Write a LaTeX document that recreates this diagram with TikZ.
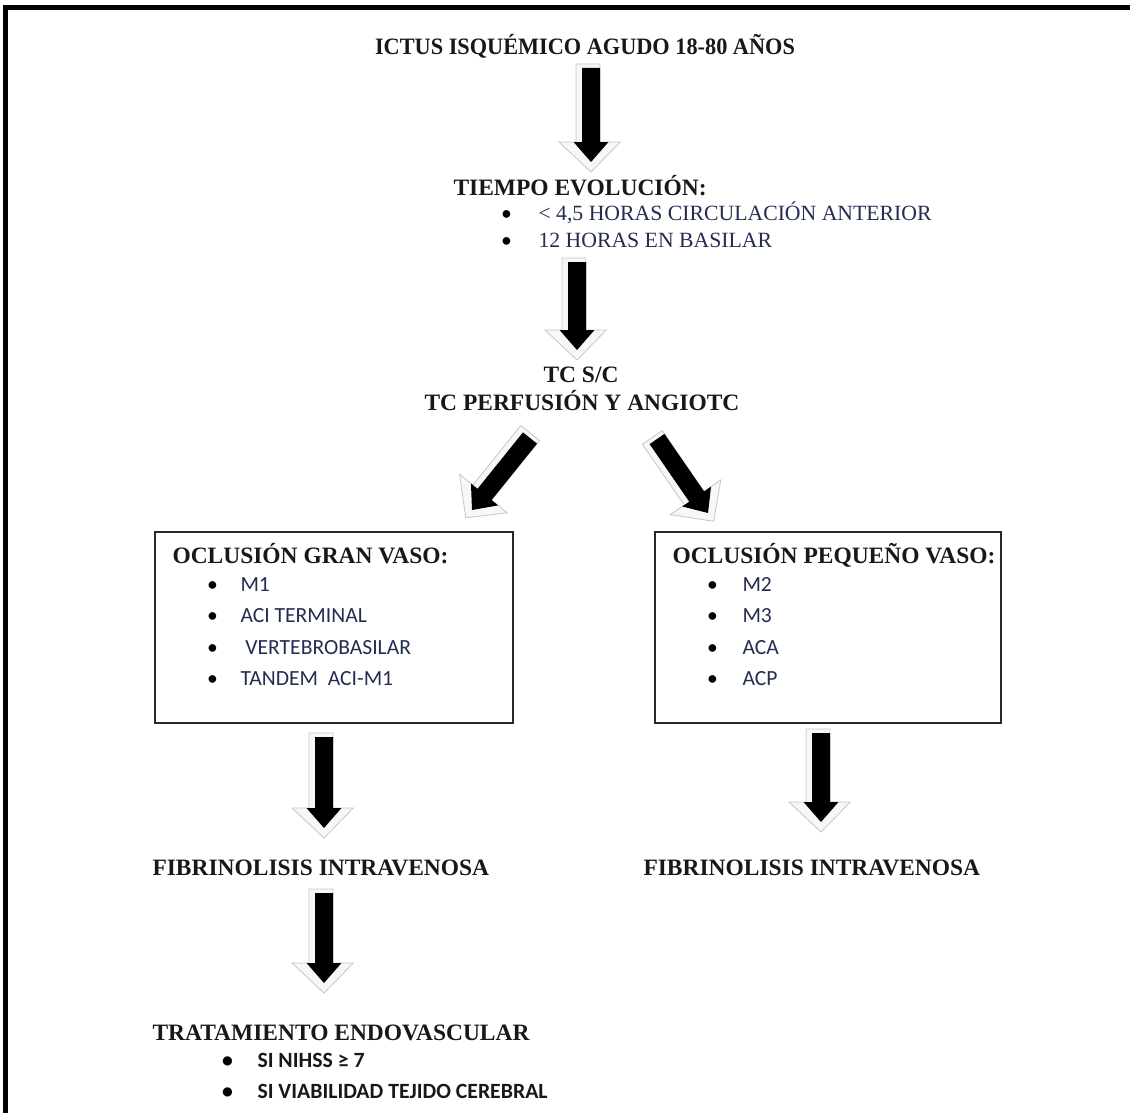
\documentclass[tikz,border=0pt]{standalone}
\usepackage{fontspec}
\setmainfont{Liberation Serif}
\newfontfamily\calibri{Carlito}
\usetikzlibrary{calc}

\definecolor{tinta}{RGB}{25,22,28}
\definecolor{azul}{RGB}{36,44,80}

\tikzset{every picture/.style={line width=0.75pt},
  cabecera/.style={font=\fontsize{17.6}{20}\selectfont\bfseries, text=tinta, inner sep=0pt, anchor=base west},
  lista/.style={font=\fontsize{16.3}{19}\selectfont, text=azul, inner sep=0pt, anchor=base west},
  listasans/.style={font=\calibri\fontsize{16.2}{19}\selectfont, text=azul, inner sep=0pt, anchor=base west},
  listanegrita/.style={font=\calibri\bfseries\fontsize{16.3}{19}\selectfont, text=tinta, inner sep=0pt, anchor=base west},
  caja/.style={draw={rgb,255:red,40;green,40;blue,40}, line width=1.5pt},
  marco/.style={line width=3.5pt, line join=miter},
  flechanegra/.style={fill=black},
  flechasombra/.style={fill=gray!6, draw=gray!45, line width=0.6pt}}

% bullet of a list item, #1 = space before the text
\newcommand{\vin}[1]{\makebox[9pt][c]{\calibri\textcolor{black}{\textbullet}}\hspace{#1}}

% block arrow with its grey shadow, from tail #1 to tip #2
\newcommand{\flecha}[2]{%
  \coordinate (#1-hb) at ($(#2)!15pt!(#1)$);
  \coordinate (#1-ts) at ($(#1)!-3pt!(#2)$);
  \coordinate (#1-ps) at ($(#2)!-7.5pt!(#1)$);
  \filldraw[flechasombra] ($(#1-ts)!11.25pt!90:(#2)$) -- ($(#1-hb)!11.25pt!90:(#2)$) -- ($(#1-hb)!24pt!90:(#2)$) -- (#1-ps) -- ($(#1-hb)!22pt!-90:(#2)$) -- ($(#1-hb)!6.75pt!-90:(#2)$) -- ($(#1-ts)!6.75pt!-90:(#2)$) -- cycle;
  \fill[flechanegra] ($(#1)!6.75pt!90:(#2)$) -- ($(#1-hb)!6.75pt!90:(#2)$) -- ($(#1-hb)!13.1pt!90:(#2)$) -- (#2) -- ($(#1-hb)!13.1pt!-90:(#2)$) -- ($(#1-hb)!6.75pt!-90:(#2)$) -- ($(#1)!6.75pt!-90:(#2)$) -- cycle;
}

\begin{document}
\begin{tikzpicture}[x=0.75pt,y=0.75pt,yscale=-1,xscale=1]
        \useasboundingbox (0,0) rectangle (1130,1113);

        % Frame
        \draw[marco] (5.5,1113) -- (5.5,7.5) -- (1130,7.5);

        % Text Nodes
        \node[cabecera, anchor=base, xscale=0.95] (ictus) at (585,55) {ICTUS ISQUÉMICO AGUDO 18-80 AÑOS};
        \node[cabecera] (tiempo) at (453,195) {TIEMPO EVOLUCIÓN:};
        \node[lista] (tiempo1) at (500,220) {\vin{19.5pt}< 4,5 HORAS CIRCULACIÓN ANTERIOR};
        \node[lista] (tiempo2) at (500,247) {\vin{19.5pt}12 HORAS EN BASILAR};
        \node[cabecera, anchor=base] (tcsc) at (581,382) {TC S/C};
        \node[cabecera, anchor=base] (tcperf) at (582,410) {TC PERFUSIÓN Y ANGIOTC};

        % Boxes
        \draw[caja] (155,532) rectangle (513,723);
        \draw[caja] (655,532) rectangle (1001,723);

        \node[cabecera] (gran) at (172,563) {OCLUSIÓN GRAN VASO:};
        \node[listasans] (gran1) at (206,591) {\vin{16.5pt}M1};
        \node[listasans] (gran2) at (206,622) {\vin{16.5pt}ACI TERMINAL};
        \node[listasans] (gran3) at (206,654) {\vin{16.5pt}\ VERTEBROBASILAR};
        \node[listasans] (gran4) at (206,685) {\vin{16.5pt}TANDEM~~ACI-M1};

        \node[cabecera] (peq) at (672,563) {OCLUSIÓN PEQUEÑO VASO:};
        \node[listasans] (peq1) at (706,591) {\vin{18pt}M2};
        \node[listasans] (peq2) at (706,622) {\vin{18pt}M3};
        \node[listasans] (peq3) at (706,654) {\vin{18pt}ACA};
        \node[listasans] (peq4) at (706,685) {\vin{18pt}ACP};

        \node[cabecera] (fibriz) at (152,875) {FIBRINOLISIS INTRAVENOSA};
        \node[cabecera] (fibrde) at (643,875) {FIBRINOLISIS INTRAVENOSA};
        \node[cabecera] (endo) at (152,1040) {TRATAMIENTO ENDOVASCULAR};
        \node[listanegrita] (endo1) at (221,1067) {\vin{18pt}SI NIHSS ≥ 7};
        \node[listanegrita] (endo2) at (221,1098) {\vin{18pt}SI VIABILIDAD TEJIDO CEREBRAL};

        % Block arrows
        \coordinate (f1) at (591,68);   \coordinate (f1t) at (591,162);
        \coordinate (f2) at (577,262);  \coordinate (f2t) at (577,350);
        \coordinate (f3) at (530,438);  \coordinate (f3t) at (472,510);
        \coordinate (f4) at (657,439);  \coordinate (f4t) at (708,513);
        \coordinate (f5) at (324,737);  \coordinate (f5t) at (324,828);
        \coordinate (f6) at (324,893);  \coordinate (f6t) at (324,983);
        \coordinate (f7) at (821,733);  \coordinate (f7t) at (821,822);
        \flecha{f1}{f1t}
        \flecha{f2}{f2t}
        \flecha{f3}{f3t}
        \flecha{f4}{f4t}
        \flecha{f5}{f5t}
        \flecha{f6}{f6t}
        \flecha{f7}{f7t}

    \end{tikzpicture}
\end{document}
